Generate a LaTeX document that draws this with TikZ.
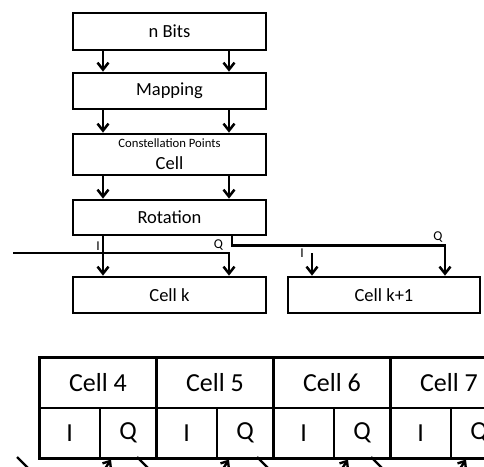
\documentclass[tikz,border=0pt]{standalone}
\usepackage{fontspec}
\setmainfont{Carlito}
\usetikzlibrary{arrows.meta,calc}
\begin{document}
\begin{tikzpicture}[x=1pt,y=-1pt,
  box/.style={draw, line width=2.7pt, minimum width=193pt, inner sep=0pt, font=\fontsize{18.5}{20}\selectfont},
  arr/.style={line width=2.5pt, -{Straight Barb[length=7pt,width=11pt,line width=2.5pt]}},
  lbl/.style={inner sep=0pt, font=\fontsize{13.5}{14}\selectfont},
  tcell/.style={draw, line width=2.8pt, inner sep=0pt, minimum height=50.5pt, font=\fontsize{26}{28}\selectfont},
  barr/.style={line width=2.4pt, -{Straight Barb[length=6pt,width=10pt,line width=2.4pt]}}]
\useasboundingbox (0,0) rectangle (484,466);
\fill[white] (0,0) rectangle (484,466);
\coordinate (xl) at (103,0);
\coordinate (xr) at (229,0);
% chain of boxes
\node[box, minimum height=37pt] (nbits) at (169.5,31.5) {n Bits};
\node[box, minimum height=36pt] (map) at (169.5,91) {Mapping};
\node[box, minimum height=41pt] (cell) at (169.5,154.5) {};
\node[lbl, font=\fontsize{12.7}{13}\selectfont] (cp) at (169.5,143.5) {Constellation Points};
\node[inner sep=0pt, font=\fontsize{18.5}{20}\selectfont] (cl) at (169.5,163) {Cell};
\node[box, minimum height=35pt] (rot) at (169.5,217.5) {Rotation};
\node[box, minimum height=36pt] (ck) at (169.5,295) {Cell k};
\node[box, minimum height=36pt, minimum width=192pt] (ck1) at (384,295) {Cell k+1};
\foreach \a/\b in {nbits/map, map/cell, cell/rot}{
  \draw[arr] (\a.south -| xl) -- (\b.north -| xl);
  \draw[arr] (\a.south -| xr) -- (\b.north -| xr);
}
% rotation outputs
\coordinate (lin) at (13,253);
\coordinate (qx) at (232,0);
\coordinate (q2x) at (445,0);
\coordinate (i2) at (312,253);
\draw[arr] (rot.south -| xl) -- (ck.north -| xl);
\draw[arr] (lin) -| (ck.north -| xr);
\draw[arr] (rot.south -| qx) -- ++(0,9) -| (ck1.north -| q2x);
\draw[arr] (i2) -- (ck1.north -| i2);
\node[lbl] (li1) at (98,246) {I};
\node[lbl] (lq1) at (218.5,245.5) {Q};
\node[lbl] (lq2) at (438,237) {Q};
\node[lbl] (li2) at (302,253) {I};
% table
\begin{scope}
\clip (0,0) rectangle (484,466);
\foreach \n/\x in {4/38,5/155,6/272,7/389}{
  \node[tcell, minimum width=117pt, anchor=north west] (c\n) at (\x,356) {Cell \n};
  \node[tcell, minimum width=60.5pt, anchor=north west] (i\n) at (\x,406.5) {I};
  \node[tcell, minimum width=56.5pt, anchor=north west] (q\n) at (\x+60.5,406.5) {Q};
}
\foreach \s/\e in {17/111,137/229,257/348,371/466}{
  \coordinate (s\s) at (\s,457);
  \coordinate (e\e) at (\e,459.5);
  \draw[barr, line join=round] (s\s) -- ++(20,20) -- ($(e\e)+(-13,20)$) -- (e\e);
}
\end{scope}
\end{tikzpicture}
\end{document}
